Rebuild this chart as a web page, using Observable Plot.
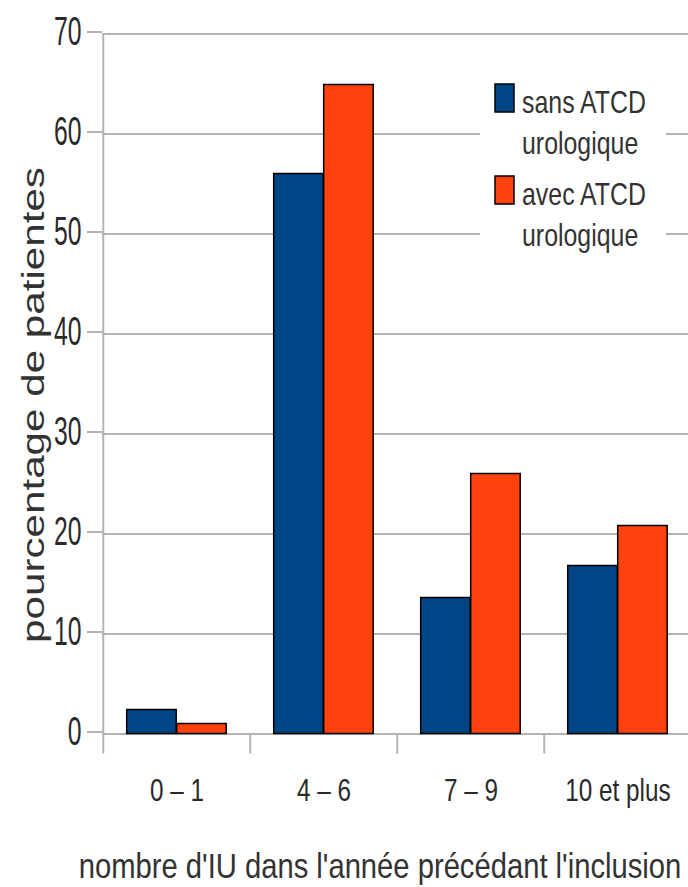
<!DOCTYPE html>
<html>
<head>
<meta charset="utf-8">
<script src="https://cdn.jsdelivr.net/npm/d3@7"></script>
<script src="https://cdn.jsdelivr.net/npm/@observablehq/plot@0.6"></script>
<style>
  html, body { margin: 0; padding: 0; background: #fff; overflow: hidden; }
  #chart { width: 688px; height: 887px; }
</style>
</head>
<body>
<div id="chart"></div>
<script>
// Number of urinary infections in the year before inclusion, by urological history
const categories = ["0 – 1", "4 – 6", "7 – 9", "10 et plus"];
const seriesNames = ["sans ATCD urologique", "avec ATCD urologique"];
const sansATCD = [2.4, 56.0, 13.6, 16.8];
const avecATCD = [1.0, 64.9, 26.0, 20.8];
const yTicks = [0, 10, 20, 30, 40, 50, 60, 70];
const colors = ["#004586", "#ff420e"];
const yTitle = "pourcentage de patientes";
const xTitle = "nombre d'IU dans l'année précédant l'inclusion";

const rows = [];
categories.forEach((c, i) => {
  rows.push({cat: c, series: seriesNames[0], value: sansATCD[i]});
  rows.push({cat: c, series: seriesNames[1], value: avecATCD[i]});
});

const W = 688, H = 887;
const mL = 102, mR = -4, mT = 33.5, mB = 153.5;
const bw = (W - mL - mR) / categories.length;   // width of one category band
const grey = "#b3b3b3";
const ink = "#2a2a2a";
const font = "'Liberation Sans', Arial, sans-serif";

const plot = Plot.plot({
  width: W,
  height: H,
  marginLeft: mL,
  marginRight: mR,
  marginTop: mT,
  marginBottom: mB,
  style: {fontFamily: font, background: "#fff", overflow: "hidden", color: ink},
  x: {type: "band", domain: categories, padding: 0, label: null},
  y: {domain: [0, 70], label: null},
  color: {domain: seriesNames, range: colors},
  marks: [
    Plot.gridY(yTicks, {stroke: grey, strokeOpacity: 1, strokeWidth: 2}),
    Plot.ruleX([categories[0]], {dx: -bw / 2, stroke: grey, strokeWidth: 2}),
    Plot.axisY(yTicks, {tickSize: 15, tickPadding: 6, stroke: grey, strokeWidth: 2, fontSize: 24.7, fill: ink, dy: -2, label: null}),
    Plot.axisX({tickSize: 20, dx: -bw / 2, tickFormat: () => "", stroke: grey, strokeWidth: 2, label: null}),
    Plot.axisX({tickSize: 0, tickPadding: 45, fontSize: 24.3, fill: ink, label: null}),
    Plot.barY(rows.filter(d => d.series === seriesNames[0]), {
      x: "cat", y: "value", fill: "series", stroke: "#000", strokeWidth: 1.5,
      insetLeft: 23.7, insetRight: bw - 73.7
    }),
    Plot.barY(rows.filter(d => d.series === seriesNames[1]), {
      x: "cat", y: "value", fill: "series", stroke: "#000", strokeWidth: 1.5,
      insetLeft: 73.7, insetRight: bw - 123.7
    })
  ]
});

document.getElementById("chart").append(plot);

// Stretch lettering about its own anchor point (tall, narrow look)
function stretch(nodes, sx, sy) {
  nodes.forEach(t => {
    const x = +t.getAttribute("x") || 0, y = +t.getAttribute("y") || 0;
    const tr = t.getAttribute("transform") || "";
    t.setAttribute("transform", `${tr} translate(${x},${y}) scale(${sx},${sy}) translate(${-x},${-y})`);
  });
}
stretch(plot.querySelectorAll('g[aria-label^="y-axis"] text'), 1, 1.62);
stretch(plot.querySelectorAll('g[aria-label^="x-axis"] text'), 1, 1.3);

const svg = d3.select(plot);

// Axis titles
const titles = svg.append("g").attr("font-family", font).attr("fill", "#333");
titles.append("text")
  .attr("transform", "translate(33,405) rotate(-90) scale(1.36,1)")
  .attr("text-anchor", "middle").attr("dy", "0.35em")
  .attr("font-size", 31).text(yTitle);
titles.append("text")
  .attr("transform", "translate(380,877.5) scale(1,1.23)")
  .attr("text-anchor", "middle")
  .attr("font-size", 29.2).text(xTitle);

// Legend box inside the plot area
const lg = svg.append("g").attr("aria-label", "legend")
  .attr("font-family", font)
  .attr("font-size", 24.9)
  .attr("fill", "#333");
lg.append("rect").attr("x", 480).attr("y", 68).attr("width", 186).attr("height", 190).attr("fill", "#fff");
seriesNames.forEach((name, i) => {
  const top = 84 + i * 92;
  lg.append("rect")
    .attr("x", 495).attr("y", top).attr("width", 19).attr("height", 28)
    .attr("fill", colors[i]).attr("stroke", "#000").attr("stroke-width", 1.5);
  const words = name.split(" ");
  const lines = [words.slice(0, 2).join(" "), words.slice(2).join(" ")];
  lines.forEach((ln, j) => {
    lg.append("text")
      .attr("transform", `translate(522,${top + 29 + j * 40.5}) scale(1,1.235)`)
      .attr("text-anchor", "start").text(ln);
  });
});
</script>
</body>
</html>
